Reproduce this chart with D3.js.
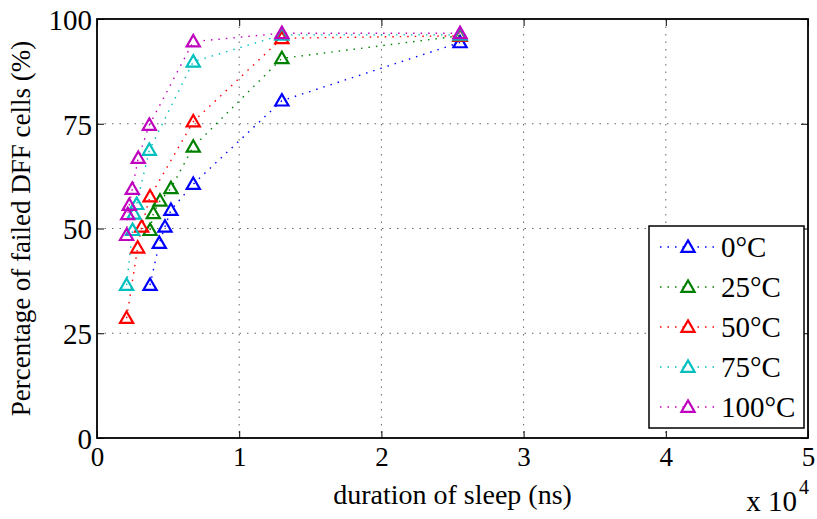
<!DOCTYPE html>
<html>
<head>
<meta charset="utf-8">
<script src="https://cdn.jsdelivr.net/npm/d3@7"></script>
<style>
  body { margin: 0; background: #fff; }
  svg { display: block; }
  text { font-family: "Liberation Serif", "Times New Roman", Times, "DejaVu Serif", serif; }
</style>
</head>
<body>
<div id="chart"></div>
<script>
// data (x in ns, y in %)
const series = ["0°C", "25°C", "50°C", "75°C", "100°C"]
const colors = ["#0000ff", "#008000", "#ff0000", "#00bfbf", "#bf00bf"]

const x0C = [3730, 4380, 4780, 5200, 6770, 13000, 25530]
const y0C = [36.5, 46.5, 50.4, 54.4, 60.6, 80.5, 94.4]
const x25C = [3730, 3960, 4430, 5200, 6770, 13000, 25530]
const y25C = [49.6, 53.6, 56.6, 59.6, 69.5, 90.6, 96]
const x50C = [2080, 2860, 3140, 3730, 6770, 13000, 25530]
const y50C = [28.6, 45.4, 50.4, 57.6, 75.5, 95.4, 96]
const x75C = [2080, 2500, 2600, 2790, 3680, 6770, 13000, 25530]
const y75C = [36.5, 49.6, 53.5, 55.8, 68.7, 89.8, 96.2, 96.2]
const x100C = [2080, 2160, 2270, 2480, 2900, 3680, 6770, 13000, 25530]
const y100C = [48.4, 53.4, 55.6, 59.4, 66.8, 74.7, 94.6, 96.6, 96.6]

const xTicks = [0, 1, 2, 3, 4, 5]
const yTicks = [0, 25, 50, 75, 100]

const xs = [x0C, x25C, x50C, x75C, x100C]
const ys = [y0C, y25C, y50C, y75C, y100C]

const width = 817
const height = 519
const margin = {top: 19, right: 9, bottom: 81, left: 97}
const fontSize = "29px"

const svg = d3.select("#chart").append("svg")
    .attr("width", width)
    .attr("height", height)

const x = d3.scaleLinear().domain([0, 50000]).range([margin.left, width - margin.right])
const y = d3.scaleLinear().domain([0, 100]).range([height - margin.bottom, margin.top])

const pLeft = x.range()[0], pRight = x.range()[1]
const pTop = y.range()[1], pBottom = y.range()[0]

// grid
const grid = svg.append("g")
    .attr("stroke", "#666")
    .attr("stroke-width", 1)
    .attr("stroke-dasharray", "1.5,6")
grid.selectAll("line.gx").data(xTicks.slice(1, -1)).enter().append("line")
    .attr("x1", d => x(d * 1e4)).attr("x2", d => x(d * 1e4))
    .attr("y1", pTop).attr("y2", pBottom)
grid.selectAll("line.gy").data(yTicks.slice(1, -1)).enter().append("line")
    .attr("x1", pLeft).attr("x2", pRight)
    .attr("y1", d => y(d)).attr("y2", d => y(d))

// axes, ticks inside like matlab
const tickLen = 7
const xAxis = d3.axisBottom(x).tickValues(xTicks.map(d => d * 1e4)).tickFormat(d => d / 1e4).tickSizeInner(-tickLen).tickSizeOuter(0).tickPadding(9)
const yAxis = d3.axisLeft(y).tickValues(yTicks).tickSizeInner(-tickLen).tickSizeOuter(0).tickPadding(5)

const gx = svg.append("g").attr("transform", `translate(0,${pBottom})`).call(xAxis)
const gy = svg.append("g").attr("transform", `translate(${pLeft},0)`).call(yAxis)
const gxTop = svg.append("g").attr("transform", `translate(0,${pTop})`)
    .call(d3.axisTop(x).tickValues(xTicks.map(d => d * 1e4)).tickSizeInner(-tickLen).tickSizeOuter(0).tickFormat(""))
const gyRight = svg.append("g").attr("transform", `translate(${pRight},0)`)
    .call(d3.axisRight(y).tickValues(yTicks).tickSizeInner(-tickLen).tickSizeOuter(0).tickFormat(""))

for (const g of [gx, gy, gxTop, gyRight]) {
    g.attr("font-family", null).attr("font-size", null)
    g.select(".domain").remove()
    g.selectAll("line").attr("stroke", "#000").attr("stroke-width", 1)
    g.selectAll("text").attr("fill", "#000").style("font-size", fontSize)
}
gx.selectAll("text").style("font-size", "27px")
gy.selectAll("text").attr("dy", "0.36em")

// box
svg.append("rect")
    .attr("x", pLeft).attr("y", pTop)
    .attr("width", pRight - pLeft).attr("height", pBottom - pTop)
    .attr("fill", "none").attr("stroke", "#000").attr("stroke-width", 1.8)

// series
const line = d3.line().x(d => x(d[0])).y(d => y(d[1]))
const tri = d3.symbol().type(d3.symbolTriangle).size(75)

series.forEach((name, i) => {
    const pts = xs[i].map((v, j) => [v, ys[i][j]])
    svg.append("path")
        .datum(pts)
        .attr("d", line)
        .attr("fill", "none")
        .attr("stroke", colors[i])
        .attr("stroke-width", 1.4)
        .attr("stroke-dasharray", "1.5,6")
    svg.append("g").selectAll("path").data(pts).enter().append("path")
        .attr("d", tri)
        .attr("transform", d => `translate(${x(d[0])},${y(d[1]) + 1})`)
        .attr("fill", "none")
        .attr("stroke", colors[i])
        .attr("stroke-width", 2.2)
})

// labels
svg.append("text")
    .attr("x", (pLeft + pRight) / 2)
    .attr("y", 504)
    .attr("text-anchor", "middle")
    .style("font-size", "28px")
    .text("duration of sleep (ns)")

svg.append("text")
    .attr("transform", `translate(30,${(pTop + pBottom) / 2}) rotate(-90)`)
    .attr("text-anchor", "middle")
    .style("font-size", "27px")
    .text("Percentage of failed DFF cells (%)")

svg.append("text")
    .attr("x", 797)
    .attr("y", 511)
    .attr("text-anchor", "end")
    .style("font-size", fontSize)
    .text("x 10")
svg.append("text")
    .attr("x", 799)
    .attr("y", 494)
    .style("font-size", "20px")
    .text("4")

// legend
const lg = svg.append("g")
lg.append("rect")
    .attr("x", 649).attr("y", 226)
    .attr("width", 155).attr("height", 202)
    .attr("fill", "#fff").attr("stroke", "#000").attr("stroke-width", 1.5)

series.forEach((name, i) => {
    const ly = 247 + i * 40
    lg.append("line")
        .attr("x1", 660).attr("x2", 714)
        .attr("y1", ly).attr("y2", ly)
        .attr("stroke", colors[i])
        .attr("stroke-width", 1.4)
        .attr("stroke-dasharray", "1.5,6")
    lg.append("path")
        .attr("d", tri)
        .attr("transform", `translate(688,${ly + 1})`)
        .attr("fill", "#fff")
        .attr("stroke", colors[i])
        .attr("stroke-width", 2.2)
    lg.append("text")
        .attr("x", 721)
        .attr("y", ly)
        .attr("dy", "0.36em")
        .style("font-size", fontSize)
        .text(name)
})
</script>
</body>
</html>
